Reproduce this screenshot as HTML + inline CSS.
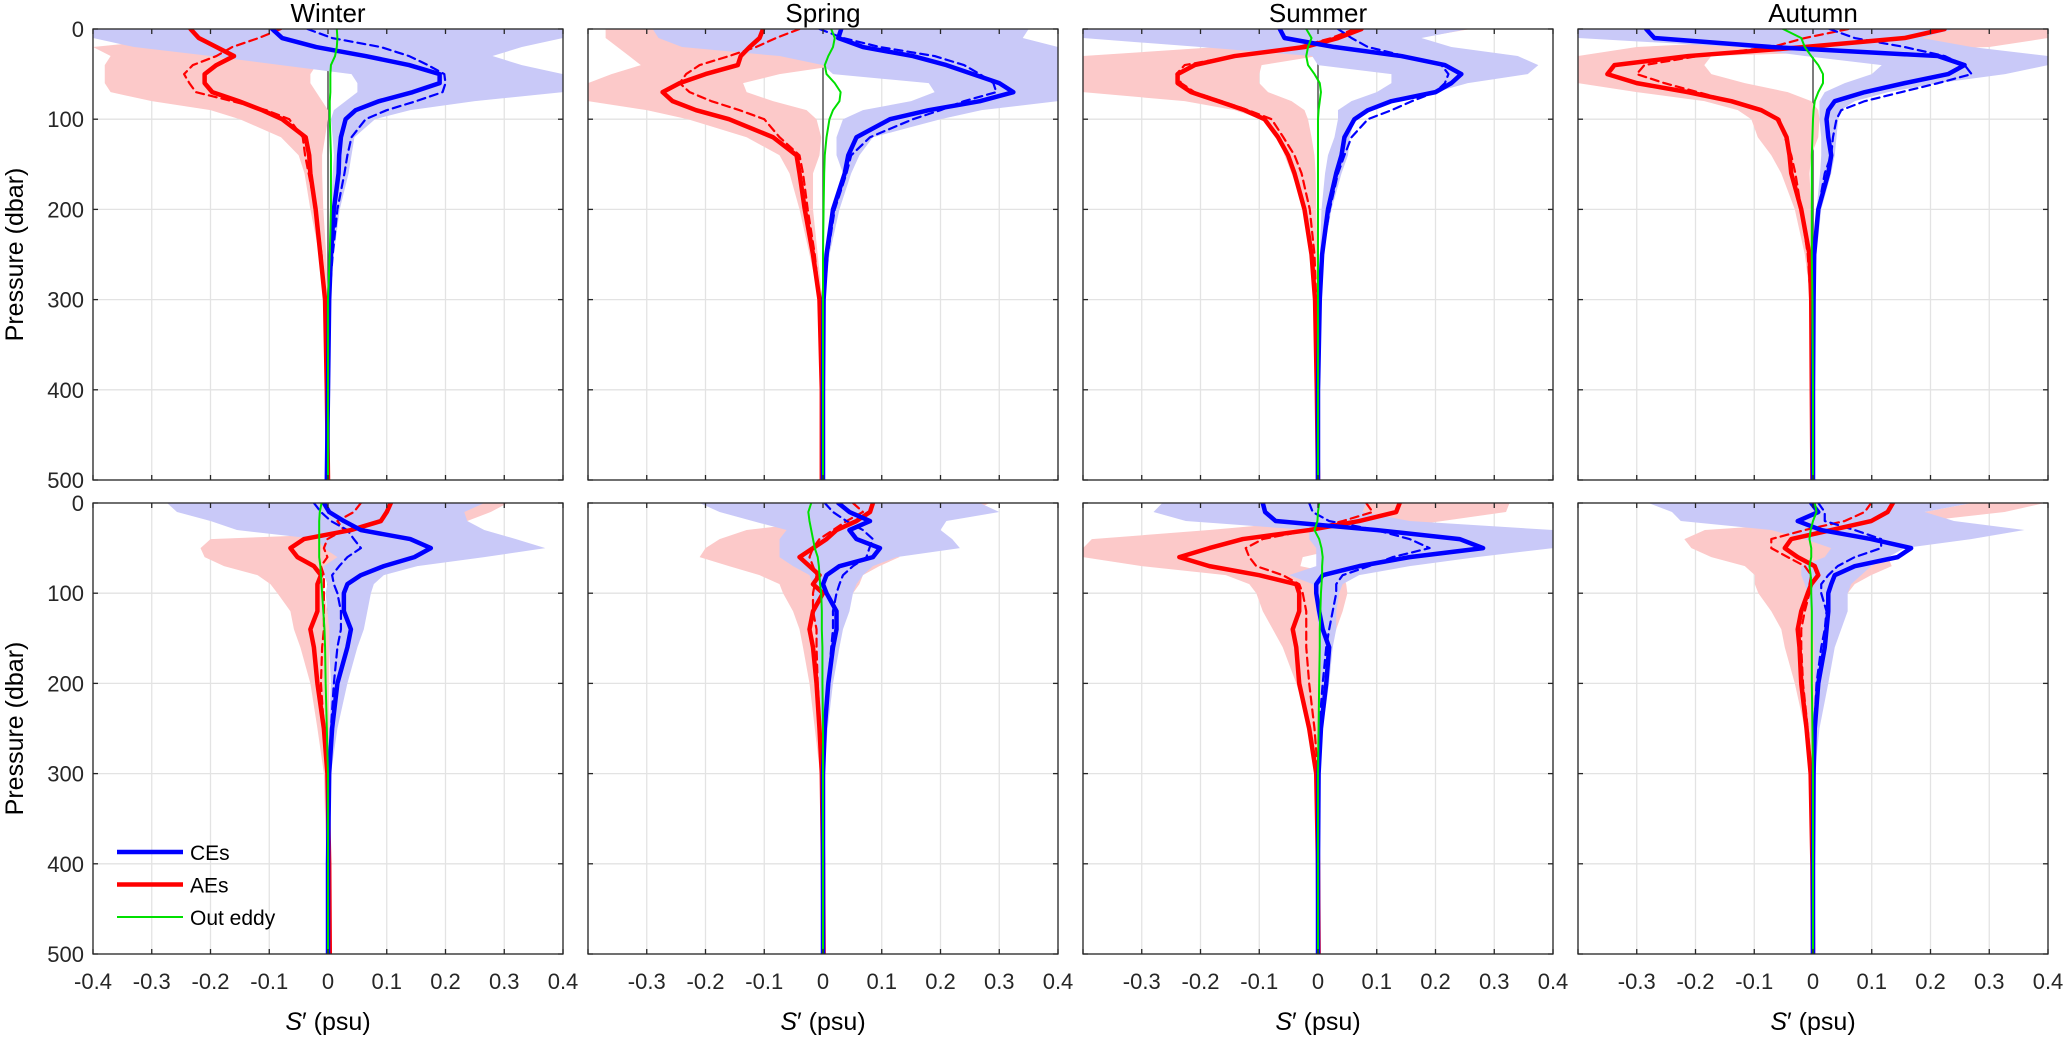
<!DOCTYPE html>
<html><head><meta charset="utf-8">
<style>
html,body{margin:0;padding:0;background:#fff;}
svg{display:block;font-family:"Liberation Sans",Arial,sans-serif;}
</style></head>
<body>
<svg id="chart" width="2067" height="1040" viewBox="0 0 2067 1040" xmlns="http://www.w3.org/2000/svg"></svg>
<script>
// ---- data ----
const depths = [0,10,20,30,40,50,60,70,80,90,100,120,140,160,200,250,300,400,500];
const seasons = ["Winter","Spring","Summer","Autumn"];
const xTicks = [-0.4,-0.3,-0.2,-0.1,0,0.1,0.2,0.3,0.4];
const xTickLabels = ["-0.4","-0.3","-0.2","-0.1","0","0.1","0.2","0.3","0.4"];
const yTicks = [0,100,200,300,400,500];

// Top row
const w1_ceS=[-0.095,-0.078,-0.02,0.064,0.138,0.19,0.19,0.144,0.087,0.047,0.03,0.022,0.019,0.018,0.01,0.005,0.002,0,-0.002];
const w1_ceD=[-0.035,0.007,0.09,0.138,0.17,0.198,0.2,0.195,0.15,0.10,0.064,0.04,0.033,0.028,0.016,0.008,0.002,0,0];
const w1_aeS=[-0.234,-0.22,-0.19,-0.16,-0.19,-0.21,-0.21,-0.197,-0.152,-0.112,-0.078,-0.038,-0.032,-0.03,-0.021,-0.013,-0.005,-0.002,0];
const w1_aeD=[-0.08,-0.118,-0.163,-0.19,-0.23,-0.245,-0.236,-0.225,-0.163,-0.105,-0.066,-0.043,-0.039,-0.033,-0.021,-0.011,-0.005,-0.002,0];
const w1_out=[0.015,0.016,0.015,0.012,0.005,0.004,0.004,0.004,0.003,0.003,0.003,0.004,0.005,0.005,0.005,0.003,0,0,0];
const w1_ceLo=[-0.4,-0.4,-0.33,-0.2,-0.08,0.04,0.05,0.05,0.03,0.01,0.005,0.008,0.01,0.008,0.005,0.002,0,0,0];
const w1_ceHi=[0.4,0.4,0.33,0.28,0.33,0.4,0.4,0.4,0.25,0.14,0.08,0.045,0.04,0.035,0.02,0.01,0.003,0.002,0.002];
const w1_aeLo=[-0.25,-0.25,-0.4,-0.37,-0.38,-0.38,-0.38,-0.37,-0.3,-0.2,-0.15,-0.08,-0.05,-0.04,-0.03,-0.015,-0.005,-0.003,-0.002];
const w1_aeHi=[-0.25,-0.2,-0.1,-0.05,-0.02,-0.03,-0.03,-0.02,-0.01,0,0,-0.005,-0.01,-0.01,-0.008,-0.003,0,0,0];

const s1_ceS=[0.031,0.026,0.068,0.153,0.21,0.255,0.30,0.324,0.267,0.18,0.114,0.057,0.043,0.037,0.017,0.006,0.001,0,0];
const s1_ceD=[-0.006,0.034,0.097,0.19,0.24,0.267,0.29,0.295,0.24,0.2,0.153,0.08,0.048,0.04,0.02,0.008,0.001,0,0];
const s1_aeS=[-0.102,-0.108,-0.125,-0.14,-0.145,-0.2,-0.244,-0.273,-0.256,-0.216,-0.16,-0.085,-0.045,-0.04,-0.031,-0.017,-0.006,-0.002,-0.002];
const s1_aeD=[-0.04,-0.08,-0.114,-0.16,-0.21,-0.233,-0.244,-0.227,-0.19,-0.142,-0.1,-0.074,-0.04,-0.034,-0.026,-0.014,-0.006,-0.002,0];
const s1_out=[0.014,0.02,0.017,0.009,0.003,0.006,0.02,0.03,0.028,0.017,0.011,0.006,0.003,0.002,0.001,0,0,0,0];
const s1_ceLo=[-0.29,-0.28,-0.24,-0.074,0,0.017,0.18,0.19,0.15,0.068,0.034,0.023,0.023,0.034,0.017,0.009,0.001,0,0];
const s1_ceHi=[0.35,0.34,0.4,0.4,0.4,0.4,0.4,0.4,0.4,0.27,0.2,0.085,0.062,0.048,0.028,0.011,0.003,0.002,0.002];
const s1_aeLo=[-0.37,-0.37,-0.35,-0.33,-0.31,-0.36,-0.4,-0.4,-0.4,-0.3,-0.23,-0.13,-0.074,-0.057,-0.04,-0.023,-0.006,-0.003,-0.002];
const s1_aeHi=[-0.29,-0.2,-0.074,0.028,0.03,-0.074,-0.136,-0.13,-0.085,-0.028,-0.011,-0.003,-0.006,-0.017,-0.017,-0.009,-0.001,0,0];

const u1_ceS=[-0.065,-0.057,0.028,0.142,0.216,0.244,0.227,0.2,0.125,0.085,0.062,0.045,0.04,0.031,0.017,0.007,0.003,0,0];
const u1_ceD=[0.034,0.057,0.085,0.148,0.21,0.222,0.216,0.2,0.16,0.125,0.085,0.057,0.045,0.034,0.02,0.007,0.003,0,0];
const u1_aeS=[0.074,0.034,-0.023,-0.142,-0.21,-0.239,-0.239,-0.216,-0.17,-0.125,-0.091,-0.068,-0.051,-0.04,-0.023,-0.011,-0.005,-0.002,0];
const u1_aeD=[0.062,0.023,-0.034,-0.142,-0.227,-0.241,-0.233,-0.21,-0.164,-0.119,-0.079,-0.059,-0.04,-0.028,-0.014,-0.006,-0.003,0,0];
const u1_out=[-0.02,-0.011,-0.017,-0.02,-0.017,-0.006,0.003,0.005,0.003,0.001,0,0,0,0,0,0,0,0,0];
const u1_ceLo=[-0.4,-0.4,-0.2,-0.01,0,0.125,0.125,0.1,0.057,0.034,0.034,0.028,0.017,0.012,0.006,0.003,0,0,0];
const u1_ceHi=[0.255,0.176,0.227,0.34,0.375,0.357,0.255,0.2,0.125,0.085,0.062,0.054,0.051,0.04,0.023,0.009,0.003,0.002,0.002];
const u1_aeLo=[0,0,-0.17,-0.4,-0.4,-0.4,-0.4,-0.4,-0.227,-0.142,-0.096,-0.068,-0.057,-0.045,-0.023,-0.011,-0.006,-0.003,-0.002];
const u1_aeHi=[0.26,0.17,0,0,-0.096,-0.1,-0.1,-0.085,-0.045,-0.023,-0.017,-0.011,-0.006,-0.004,-0.003,-0.001,0,0,0];

const a1_ceS=[-0.284,-0.27,-0.071,0.213,0.258,0.23,0.156,0.088,0.037,0.026,0.023,0.026,0.031,0.026,0.009,0.002,0.001,0,0];
const a1_ceD=[0.028,0.071,0.156,0.224,0.258,0.27,0.213,0.15,0.088,0.048,0.04,0.034,0.031,0.02,0.009,0.002,0.001,0,0];
const a1_aeS=[0.224,0.156,-0.014,-0.213,-0.338,-0.35,-0.3,-0.213,-0.139,-0.088,-0.06,-0.045,-0.04,-0.037,-0.02,-0.006,-0.003,-0.002,-0.001];
const a1_aeD=[0.06,-0.014,-0.07,-0.196,-0.287,-0.3,-0.253,-0.196,-0.139,-0.088,-0.057,-0.048,-0.037,-0.03,-0.02,-0.009,-0.004,-0.002,0];
const a1_out=[-0.051,-0.02,-0.014,-0.003,0.009,0.017,0.017,0.009,0.003,0.001,0,-0.001,-0.002,-0.002,-0.002,-0.002,-0.001,0,0];
const a1_ceLo=[-0.4,-0.4,-0.128,-0.014,0.117,0.1,0.054,0.02,0.011,0.011,0.011,0.014,0.014,0.012,0.006,0.002,0.001,0,0];
const a1_ceHi=[0.24,0.185,0.27,0.4,0.4,0.327,0.213,0.128,0.071,0.048,0.043,0.04,0.037,0.031,0.014,0.006,0.002,0.002,0.002];
const a1_aeLo=[0,0,-0.3,-0.4,-0.4,-0.4,-0.4,-0.3,-0.185,-0.128,-0.105,-0.094,-0.071,-0.054,-0.031,-0.014,-0.004,-0.003,-0.002];
const a1_aeHi=[0.4,0.4,0.3,-0.173,-0.185,-0.173,-0.116,-0.043,-0.003,0.009,0.011,0.009,-0.003,-0.006,-0.003,0,0,0,0];

// Bottom row
const w2_ceS=[-0.007,0.002,0.027,0.056,0.14,0.175,0.147,0.095,0.056,0.033,0.027,0.027,0.039,0.033,0.016,0.007,0.002,0,0];
const w2_ceD=[-0.024,-0.012,0.005,0.033,0.044,0.056,0.033,0.019,0.007,0.01,0.016,0.022,0.022,0.016,0.01,0.005,0.001,0,0];
const w2_aeS=[0.107,0.1,0.09,0.039,-0.041,-0.064,-0.052,-0.024,-0.012,-0.018,-0.018,-0.018,-0.03,-0.024,-0.018,-0.007,-0.001,0.002,0.003];
const w2_aeD=[0.056,0.044,0.016,0.027,-0.001,-0.007,-0.001,-0.012,-0.007,-0.007,-0.007,-0.007,-0.007,-0.01,-0.012,-0.007,-0.001,0.001,0.001];
const w2_out=[-0.011,-0.014,-0.015,-0.015,-0.015,-0.015,-0.015,-0.013,-0.012,-0.011,-0.01,-0.008,-0.006,-0.005,-0.004,-0.002,0,0,0];
const w2_ceLo=[-0.274,-0.257,-0.2,-0.155,-0.018,-0.007,0.016,-0.007,-0.007,-0.001,-0.004,-0.001,0.002,0.002,0.005,0.002,-0.001,-0.001,-0.001];
const w2_ceHi=[0.266,0.232,0.237,0.266,0.32,0.37,0.266,0.152,0.095,0.078,0.073,0.067,0.061,0.05,0.033,0.016,0.005,0.003,0.002];
const w2_aeLo=[0.2,0.2,0.2,0.2,-0.2,-0.217,-0.21,-0.177,-0.12,-0.098,-0.086,-0.064,-0.058,-0.047,-0.03,-0.018,-0.007,-0.003,-0.002];
const w2_aeHi=[0.306,0.277,0.237,0.1,-0.018,0.005,0.022,0.005,-0.007,-0.007,-0.007,-0.001,0.005,0.002,0.002,0.002,0,0,0];

const s2_ceS=[0.026,0.045,0.08,0.045,0.057,0.097,0.085,0.028,0.006,0,0.006,0.023,0.023,0.017,0.009,0.003,0,0,0];
const s2_ceD=[0.003,0.017,0.04,0.068,0.085,0.079,0.074,0.051,0.034,0.028,0.023,0.017,0.017,0.014,0.009,0.004,0,0,0];
const s2_aeS=[0.085,0.08,0.057,0.023,0.006,-0.017,-0.04,-0.023,-0.006,-0.017,0,-0.017,-0.023,-0.017,-0.011,-0.006,-0.002,0,0.001];
const s2_aeD=[0.051,0.068,0.04,0.017,-0.006,-0.017,-0.023,-0.017,-0.011,-0.014,-0.017,-0.017,-0.011,-0.011,-0.009,-0.005,-0.001,0,0.001];
const s2_out=[-0.02,-0.025,-0.023,-0.02,-0.017,-0.014,-0.009,-0.007,-0.006,-0.005,-0.003,-0.002,-0.002,-0.001,-0.001,0,0,0,0];
const s2_ceLo=[-0.21,-0.176,-0.12,-0.062,-0.074,-0.074,-0.074,-0.051,-0.023,-0.017,-0.017,-0.017,-0.011,-0.009,-0.006,-0.003,-0.001,0,0];
const s2_ceHi=[0.267,0.3,0.21,0.2,0.22,0.233,0.125,0.085,0.068,0.057,0.051,0.045,0.034,0.028,0.017,0.008,0.002,0.002,0.002];
const s2_aeLo=[0.1,0.1,0.0,-0.13,-0.176,-0.2,-0.21,-0.16,-0.108,-0.074,-0.068,-0.051,-0.04,-0.034,-0.023,-0.014,-0.005,-0.003,-0.002];
const s2_aeHi=[0.284,0.25,0.15,0.13,0.13,0.13,0.13,0.096,0.068,0.062,0.051,0.028,0.023,0.017,0.014,0.006,0.002,0,0];

const u2_ceS=[-0.094,-0.09,-0.072,0.1,0.241,0.281,0.156,0.07,0.008,-0.003,-0.003,0.002,0.008,0.019,0.014,0.005,0.001,0,0];
const u2_ceD=[-0.015,-0.009,0.019,0.099,0.156,0.19,0.127,0.087,0.042,0.031,0.031,0.025,0.019,0.014,0.008,0.002,0,0,0];
const u2_aeS=[0.139,0.133,0.07,-0.015,-0.128,-0.185,-0.236,-0.185,-0.1,-0.037,-0.032,-0.032,-0.043,-0.037,-0.032,-0.015,-0.003,0,0.001];
const u2_aeD=[0.082,0.093,0.042,-0.015,-0.094,-0.123,-0.117,-0.105,-0.06,-0.032,-0.026,-0.02,-0.02,-0.02,-0.015,-0.006,0,0,0];
const u2_out=[0.002,0,-0.001,-0.006,0.002,0.006,0.008,0.007,0.007,0.006,0.005,0.004,0.003,0.003,0.002,0.001,0,0,0];
const u2_ceLo=[-0.265,-0.28,-0.225,-0.015,-0.015,-0.003,-0.003,-0.003,-0.049,-0.009,-0.006,-0.003,0.002,0.005,0.005,0.002,0,0,0];
const u2_ceHi=[0.082,0.076,0.156,0.4,0.4,0.4,0.27,0.156,0.07,0.042,0.036,0.031,0.031,0.025,0.019,0.008,0.002,0.002,0.002];
const u2_aeLo=[0.082,0.076,-0.015,-0.185,-0.385,-0.4,-0.4,-0.3,-0.157,-0.117,-0.105,-0.094,-0.077,-0.06,-0.037,-0.015,-0.003,-0.003,-0.002];
const u2_aeHi=[0.326,0.32,0.212,0.099,0.014,0.042,-0.026,-0.03,0.042,0.048,0.05,0.042,0.031,0.019,0.011,0.004,0.001,0,0];

const a2_ceS=[-0.003,0.009,-0.026,0.014,0.099,0.167,0.144,0.071,0.037,0.031,0.026,0.026,0.023,0.02,0.009,0.003,0.001,0,0];
const a2_ceD=[0.009,0.02,0.02,0.071,0.116,0.116,0.071,0.042,0.026,0.014,0.014,0.023,0.02,0.014,0.006,0.002,0.001,0,0];
const a2_aeS=[0.136,0.127,0.099,0.031,-0.037,-0.048,-0.026,0.003,0.009,-0.003,-0.009,-0.02,-0.026,-0.023,-0.02,-0.011,-0.004,-0.001,0];
const a2_aeD=[0.099,0.088,0.054,-0.014,-0.071,-0.071,-0.043,-0.014,-0.003,-0.006,-0.006,-0.014,-0.02,-0.02,-0.017,-0.009,-0.003,0,0];
const a2_out=[0.003,0.006,0,-0.004,-0.006,-0.003,-0.003,-0.006,-0.004,-0.003,-0.003,-0.002,-0.002,-0.002,-0.002,-0.001,0,0,0];
const a2_ceLo=[-0.28,-0.24,-0.225,-0.071,-0.014,0.031,0.02,-0.02,-0.02,-0.014,-0.009,-0.003,0,0.002,0.003,0.002,0,0,0];
const a2_ceHi=[0.27,0.19,0.24,0.36,0.269,0.156,0.128,0.099,0.082,0.065,0.059,0.059,0.048,0.037,0.026,0.011,0.003,0.002,0.002];
const a2_aeLo=[0.27,0.19,0.042,-0.184,-0.219,-0.207,-0.173,-0.116,-0.099,-0.099,-0.093,-0.071,-0.054,-0.048,-0.031,-0.014,-0.003,-0.003,-0.002];
const a2_aeHi=[0.395,0.326,0.19,0.043,0.02,0.042,0.128,0.134,0.099,0.071,0.059,0.026,0.014,0.011,0.009,0.004,0.001,0,0];

const panels = [
 {row:0,col:0,ceS:w1_ceS,ceD:w1_ceD,aeS:w1_aeS,aeD:w1_aeD,out:w1_out,ceLo:w1_ceLo,ceHi:w1_ceHi,aeLo:w1_aeLo,aeHi:w1_aeHi},
 {row:0,col:1,ceS:s1_ceS,ceD:s1_ceD,aeS:s1_aeS,aeD:s1_aeD,out:s1_out,ceLo:s1_ceLo,ceHi:s1_ceHi,aeLo:s1_aeLo,aeHi:s1_aeHi},
 {row:0,col:2,ceS:u1_ceS,ceD:u1_ceD,aeS:u1_aeS,aeD:u1_aeD,out:u1_out,ceLo:u1_ceLo,ceHi:u1_ceHi,aeLo:u1_aeLo,aeHi:u1_aeHi},
 {row:0,col:3,ceS:a1_ceS,ceD:a1_ceD,aeS:a1_aeS,aeD:a1_aeD,out:a1_out,ceLo:a1_ceLo,ceHi:a1_ceHi,aeLo:a1_aeLo,aeHi:a1_aeHi},
 {row:1,col:0,ceS:w2_ceS,ceD:w2_ceD,aeS:w2_aeS,aeD:w2_aeD,out:w2_out,ceLo:w2_ceLo,ceHi:w2_ceHi,aeLo:w2_aeLo,aeHi:w2_aeHi},
 {row:1,col:1,ceS:s2_ceS,ceD:s2_ceD,aeS:s2_aeS,aeD:s2_aeD,out:s2_out,ceLo:s2_ceLo,ceHi:s2_ceHi,aeLo:s2_aeLo,aeHi:s2_aeHi},
 {row:1,col:2,ceS:u2_ceS,ceD:u2_ceD,aeS:u2_aeS,aeD:u2_aeD,out:u2_out,ceLo:u2_ceLo,ceHi:u2_ceHi,aeLo:u2_aeLo,aeHi:u2_aeHi},
 {row:1,col:3,ceS:a2_ceS,ceD:a2_ceD,aeS:a2_aeS,aeD:a2_aeD,out:a2_out,ceLo:a2_ceLo,ceHi:a2_ceHi,aeLo:a2_aeLo,aeHi:a2_aeHi}
];

// ---- layout ----
const NS="http://www.w3.org/2000/svg";
const svg=document.getElementById('chart');
const panelLeft=[93,588,1083,1578], panelW=470, rowTop=[29,503], panelH=451;
function mk(tag,attrs,parent){const e=document.createElementNS(NS,tag);for(const k in attrs)e.setAttribute(k,attrs[k]);(parent||svg).appendChild(e);return e;}
const defs=mk('defs',{});

panels.forEach((p,i)=>{
  const L=panelLeft[p.col], T=rowTop[p.row];
  const xs=v=>L+(v+0.4)/0.8*panelW;
  const ys=d=>T+d/500*panelH;
  const cp=mk('clipPath',{id:'clip'+i},defs);
  mk('rect',{x:L,y:T,width:panelW,height:panelH},cp);
  const g=mk('g',{});
  
  
  xTicks.forEach(t=>{const l=mk('line',{x1:xs(t),x2:xs(t),y1:T,y2:T+panelH,stroke:'#e3e3e3','stroke-width':1.3},g);
    });
  yTicks.forEach(t=>{const l=mk('line',{x1:L,x2:L+panelW,y1:ys(t),y2:ys(t),stroke:'#e3e3e3','stroke-width':1.3},g);
    });
  const z=mk('line',{x1:xs(0),x2:xs(0),y1:T,y2:T+panelH,stroke:'#555','stroke-width':1.5},g);
  
  const cg=mk('g',{'clip-path':'url(#clip'+i+')'},g);
  function band(lo,hi,color,name){
    let pts=depths.map((d,k)=>xs(lo[k])+','+ys(d));
    for(let k=depths.length-1;k>=0;k--)pts.push(xs(hi[k])+','+ys(depths[k]));
    const e=mk('polygon',{points:pts.join(' '),fill:color,stroke:'none'},cg);
    
  }
  band(p.aeLo,p.aeHi,'#fcc9c9','ae-spread-band');
  band(p.ceLo,p.ceHi,'#c9c9f8','ce-spread-band');
  function line(vals,color,w,dash,name){
    const pts=depths.map((d,k)=>xs(vals[k])+','+ys(d)).join(' ');
    const a={points:pts,fill:'none',stroke:color,'stroke-width':w,'stroke-linejoin':'round','stroke-linecap':'round'};
    if(dash)a['stroke-dasharray']=dash;
    const e=mk('polyline',a,cg);
    
  }
  line(p.aeD,'#ff0000',2.2,'8 5','ae-dashed-line');
  line(p.ceD,'#0000ff',2.2,'8 5','ce-dashed-line');
  line(p.aeS,'#ff0000',4.5,null,'ae-mean-line');
  line(p.ceS,'#0000ff',4.5,null,'ce-mean-line');
  line(p.out,'#00e000',2,null,'out-eddy-line');
  const b=mk('rect',{x:L,y:T,width:panelW,height:panelH,fill:'none',stroke:'#262626','stroke-width':1.3},g);
  
  xTicks.forEach(t=>{mk('line',{x1:xs(t),x2:xs(t),y1:T,y2:T+5,stroke:'#262626','stroke-width':1.3},g);
                      mk('line',{x1:xs(t),x2:xs(t),y1:T+panelH,y2:T+panelH-5,stroke:'#262626','stroke-width':1.3},g);});
  yTicks.forEach(t=>{mk('line',{x1:L,x2:L+5,y1:ys(t),y2:ys(t),stroke:'#262626','stroke-width':1.3},g);
                      mk('line',{x1:L+panelW,x2:L+panelW-5,y1:ys(t),y2:ys(t),stroke:'#262626','stroke-width':1.3},g);});
  if(p.col===0){
    yTicks.forEach(t=>{const tx=mk('text',{x:L-9,y:ys(t)+8,'text-anchor':'end','font-size':22,fill:'#262626'},g);
      tx.textContent=t;});
    const yl=mk('text',{x:0,y:0,'text-anchor':'middle','font-size':25,fill:'#000',transform:'translate(23,'+(T+panelH/2)+') rotate(-90)'},g);
    yl.textContent='Pressure (dbar)';
  }
  if(p.row===1){
    xTicks.forEach((t,k)=>{ if(p.col>0&&k===0)return;
      const tx=mk('text',{x:xs(t),y:T+panelH+35,'text-anchor':'middle','font-size':22,fill:'#262626'},g);
      tx.textContent=xTickLabels[k];});
    const xl=mk('text',{x:L+panelW/2,y:1030,'text-anchor':'middle','font-size':25,fill:'#000'},g);
    xl.innerHTML='<tspan font-style="italic">S</tspan>′ (psu)';
    
  }
  if(p.row===0){
    const tt=mk('text',{x:L+panelW/2,y:22,'text-anchor':'middle','font-size':26,fill:'#000'},g);
    tt.textContent=seasons[p.col];
  }
});

// legend
const legendLabels=["CEs","AEs","Out eddy"];
const legendColors=["#0000ff","#ff0000","#00e000"];
const legendWidths=[4.5,4.5,2];
const lg=mk('g',{});

legendLabels.forEach((lab,k)=>{
  const y=852+k*32.5;
  const l=mk('line',{x1:117,x2:183,y1:y,y2:y,stroke:legendColors[k],'stroke-width':legendWidths[k]},lg);
  
  const t=mk('text',{x:190,y:y+8,'font-size':21,fill:'#000'},lg);
  t.textContent=lab;
});
</script>
</body></html>
